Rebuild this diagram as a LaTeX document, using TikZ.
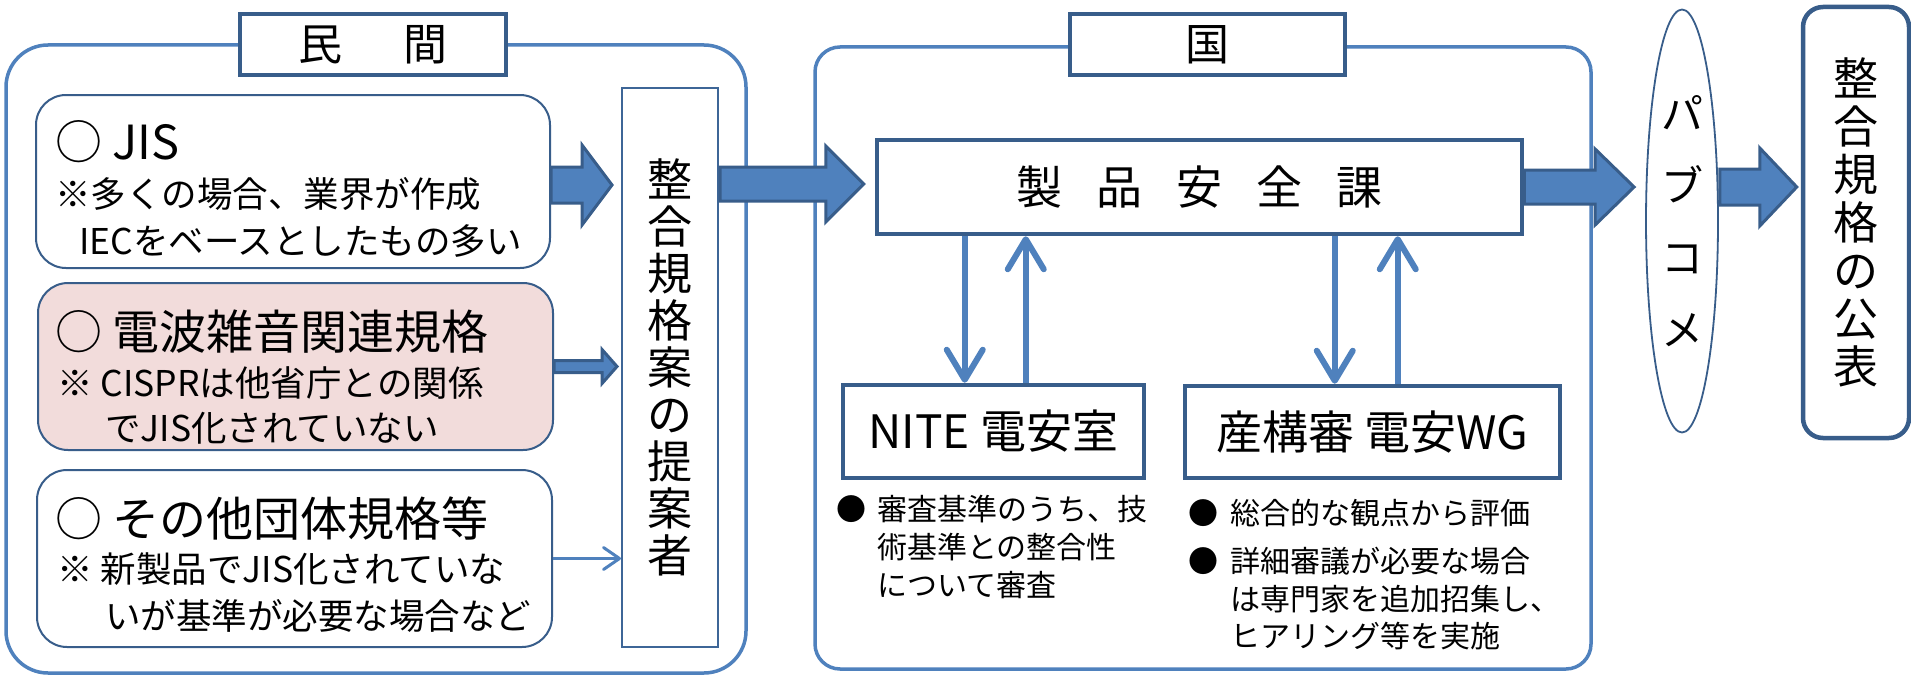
\documentclass[tikz,border=0pt]{standalone}
\usepackage{fontspec}
\setmainfont{Noto Sans CJK JP}
\usetikzlibrary{calc,arrows.meta,shapes.geometric}
\definecolor{medblue}{HTML}{4F81BD}
\definecolor{darkblue}{HTML}{385D8A}
\definecolor{pinkfill}{HTML}{F2DCDB}
\newcommand{\hdfont}{\fontsize{47}{50}\selectfont}
\newcommand{\ntfont}{\fontsize{35.5}{40}\selectfont}
\newcommand{\btfont}{\fontsize{30}{38}\selectfont}
\newcommand{\blockarrow}[5]{%
  \draw[blockar] let \p1=(#1), \p2=(#2) in
    (\x1,\y1+#3) -- (\x2-#5,\y1+#3) -- (\x2-#5,\y1+#4) -- (\x2,\y1)
    -- (\x2-#5,\y1-#4) -- (\x2-#5,\y1-#3) -- (\x1,\y1-#3) -- cycle;}
\tikzset{
  grp/.style={draw=medblue, line width=3.5pt, fill=white, inner sep=0pt},
  titlebox/.style={draw=darkblue, line width=4pt, fill=white, inner sep=0pt,
    font=\fontsize{44}{48}\selectfont},
  itembox/.style={draw=darkblue, line width=2pt, rounded corners=30pt, inner sep=0pt},
  propbox/.style={draw=darkblue!75!medblue, line width=2pt, fill=white, inner sep=0pt,
    align=center, font=\fontsize{45}{47}\selectfont},
  orgbox/.style={draw=darkblue, line width=4.5pt, fill=white, inner sep=0pt,
    font=\fontsize{46}{50}\selectfont},
  blockar/.style={fill=medblue, draw=darkblue, line width=3pt, line join=miter},
  varrow/.style={draw=medblue, line width=6pt, -{Straight Barb[length=30pt,width=36pt,round]}},
  thinar/.style={draw=medblue, line width=3pt, -{Straight Barb[length=16pt,width=22pt,round]}},
  txt/.style={anchor=base west, inner sep=0pt},
}
\begin{document}
\begin{tikzpicture}[x=1pt,y=-1pt]
\useasboundingbox (0,0) rectangle (1911,677);
% group frames
\node[grp, rounded corners=42pt, minimum width=740pt, minimum height=628pt] (left) at (376,359) {};
\node[grp, rounded corners=25pt, minimum width=776pt, minimum height=622pt] (mid) at (1203,358) {};
\node[titlebox, minimum width=266pt, minimum height=61pt] (tmin) at (373,44.5) {民\hspace{62pt}間};
\node[titlebox, minimum width=275pt, minimum height=61pt] (tkuni) at (1207.5,44.5) {国};
% left items
\node[itembox, fill=white, minimum width=514pt, minimum height=173pt] (jis) at (293,181.5) {};
\node[itembox, fill=pinkfill, minimum width=515pt, minimum height=167pt] (pink) at (295.5,366.5) {};
\node[itembox, fill=white, minimum width=515pt, minimum height=177pt] (other) at (294.5,558.5) {};
\node[propbox, minimum width=96pt, minimum height=559pt] (prop) at (670,367.5)
  {整\\合\\規\\格\\案\\の\\提\\案\\者};
% middle
\node[orgbox, minimum width=645pt, minimum height=94pt] (seihin) at (1199.5,187)
  {製\hspace{34pt}品\hspace{34pt}安\hspace{34pt}全\hspace{34pt}課};
\node[orgbox, minimum width=301pt, minimum height=93pt] (nite) at (993.5,431.5) {NITE 電安室};
\node[orgbox, minimum width=375pt, minimum height=92pt] (sank) at (1372.5,432) {産構審 電安WG};
% right
\node[ellipse, draw=darkblue, line width=1.8pt, fill=white, inner sep=0pt,
  minimum width=72pt, minimum height=423pt, align=center,
  font=\fontsize{42}{72}\selectfont] (pubc) at (1682,221) {パ\\ブ\\コ\\メ};
\node[draw=darkblue, line width=4.5pt, rounded corners=20pt, fill=white, inner sep=0pt,
  minimum width=106pt, minimum height=431pt, align=center,
  font=\fontsize{45}{48}\selectfont] (final) at (1856,222.5)
  {整\\合\\規\\格\\の\\公\\表};
% texts in left items
\node[txt, font=\hdfont] (jisA) at (55,159) {○ JIS};
\node[txt, font=\ntfont] (jisB) at (55,207) {※多くの場合、業界が作成};
\node[txt, font=\ntfont] (jisC) at (79,254) {IECをベースとしたもの多い};
\node[txt, font=\hdfont] (pinkA) at (55,349) {○ 電波雑音関連規格};
\node[txt, font=\ntfont] (pinkB) at (57,396) {※ CISPRは他省庁との関係};
\node[txt, font=\ntfont] (pinkC) at (105,441) {でJIS化されていない};
\node[txt, font=\hdfont] (othA) at (55,536) {○ その他団体規格等};
\node[txt, font=\ntfont] (othB) at (57,582) {※ 新製品でJIS化されていな};
\node[txt, font=\ntfont] (othC) at (105,629) {いが基準が必要な場合など};
% bullets
\node[txt, font=\btfont] (nb1) at (836,520) {●};
\node[txt, font=\btfont] (nt1) at (877,520) {審査基準のうち、技};
\node[txt, font=\btfont] (nt2) at (877,558) {術基準との整合性};
\node[txt, font=\btfont] (nt3) at (877,596) {について審査};
\node[txt, font=\btfont] (sb1) at (1188,524) {●};
\node[txt, font=\btfont] (st1) at (1230,524) {総合的な観点から評価};
\node[txt, font=\btfont] (sb2) at (1188,572) {●};
\node[txt, font=\btfont] (st2) at (1230,572) {詳細審議が必要な場合};
\node[txt, font=\btfont] (st3) at (1230,610) {は専門家を追加招集し、};
\node[txt, font=\btfont] (st4) at (1230,647) {ヒアリング等を実施};
% block arrows
\coordinate (a1s) at ($(jis.east)+(0,3.5)$);
\coordinate (a1t) at ($(prop.west)+(-9,0)$);
\blockarrow{a1s}{a1t}{18pt}{40pt}{30pt}
\coordinate (pks) at (pink.east);
\coordinate (pkt) at ($(prop.west)+(-4,0)$);
\blockarrow{pks}{pkt}{6pt}{17pt}{15pt}
\coordinate (a0s) at ($(prop.north east)+(1,97)$);
\coordinate (a0t) at ($(seihin.west)+(-11,0)$);
\blockarrow{a0s}{a0t}{17pt}{38pt}{38pt}
\coordinate (a2s) at (seihin.east);
\coordinate (a2t) at ($(pubc.west)+(-11,0)$);
\blockarrow{a2s}{a2t}{17pt}{38pt}{39pt}
\coordinate (a3s) at ($(pubc.east)+(1,-34)$);
\coordinate (a3t) at ($(final.west)+(-4,0)$);
\blockarrow{a3s}{a3t}{18pt}{39pt}{37pt}
% thin arrow
\draw[thinar] (other.east) -- (other.east -| prop.west);
% vertical arrows
\coordinate (n1) at ($(nite.north west)+(124,0)$);
\coordinate (n2) at ($(nite.north west)+(185,0)$);
\draw[varrow] (n1 |- seihin.south) -- (n1);
\draw[varrow] (n2) -- (n2 |- seihin.south);
\coordinate (s1) at ($(sank.north west)+(152,0)$);
\coordinate (s2) at ($(sank.north west)+(215,0)$);
\draw[varrow] (s1 |- seihin.south) -- (s1);
\draw[varrow] (s2) -- (s2 |- seihin.south);
\end{tikzpicture}
\end{document}
